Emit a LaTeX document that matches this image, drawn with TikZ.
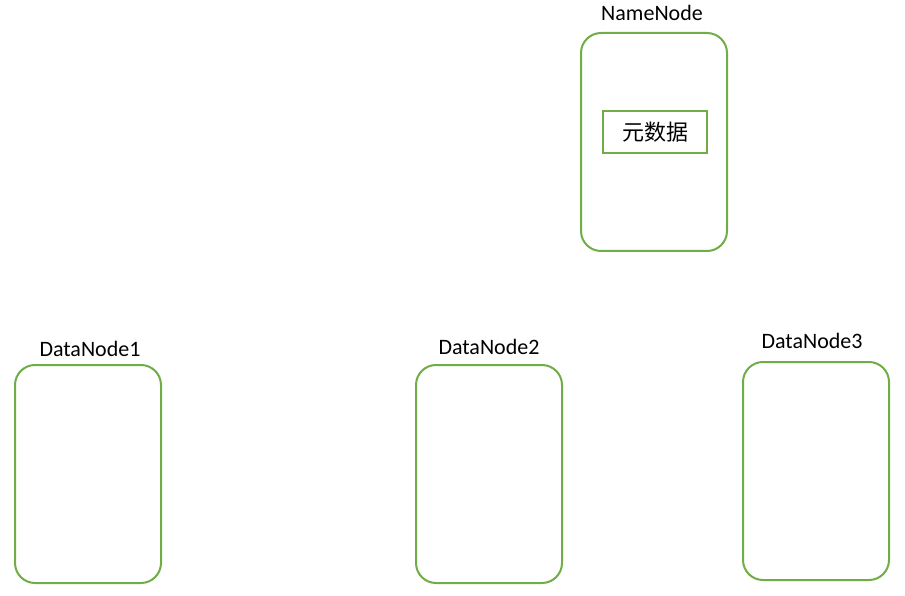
\documentclass[tikz,border=0pt]{standalone}
\usepackage{fontspec}
\setmainfont{Carlito}
\newfontfamily\cjk{Noto Sans CJK SC}
\usetikzlibrary{positioning}

\definecolor{nodegreen}{HTML}{70AD47}

\begin{document}
\begin{tikzpicture}[
        x=1pt, y=-1pt,
        every node/.style={font=\fontsize{22}{26}\selectfont},
        server/.style={draw=nodegreen, line width=2pt, rounded corners=20pt, minimum width=146pt, minimum height=218pt, inner sep=0pt},
        meta/.style={draw=nodegreen, line width=2pt, minimum width=104pt, minimum height=42pt, inner sep=0pt},
        caption/.style={anchor=base, inner sep=0pt}
    ]
    \useasboundingbox (0,0) rectangle (905,596);

    % Nodes
    \node[server] (namenode) at (654,142) {};
    \node[meta] (metadata) at (655,132) {\cjk 元数据};
    \node[server] (datanode1) at (88,474) {};
    \node[server] (datanode2) at (489,474) {};
    \node[server] (datanode3) at (816,471) {};

    % Labels
    \node[caption, above=11.5pt of namenode.north, anchor=base, xshift=-2pt] (namelabel) {NameNode};
    \node[caption, above=7.5pt of datanode1.north, anchor=base, xshift=2pt] (label1) {DataNode1};
    \node[caption, above=9.5pt of datanode2.north, anchor=base] (label2) {DataNode2};
    \node[caption, above=12.5pt of datanode3.north, anchor=base, xshift=-4pt] (label3) {DataNode3};

\end{tikzpicture}
\end{document}
